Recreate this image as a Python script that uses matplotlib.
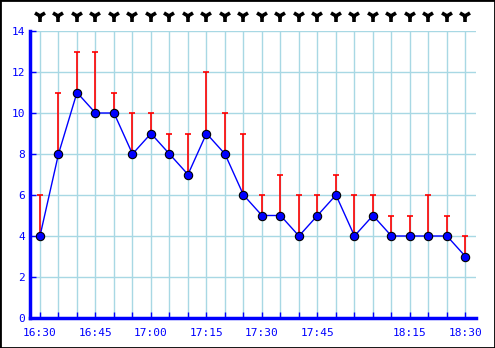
import matplotlib
matplotlib.use("Agg")
import matplotlib.pyplot as plt
import numpy as np

# values, one per reading
labels = ["16:30", "", "", "16:45", "", "", "17:00", "", "", "17:15", "", "",
          "17:30", "", "", "17:45", "", "", "", "", "18:15", "", "", "18:30"]
values = [4, 8, 11, 10, 10, 8, 9, 8, 7, 9, 8, 6, 5, 5, 4, 5, 6, 4, 5, 4, 4, 4, 4, 3]
maxima = [6, 11, 13, 13, 11, 10, 10, 9, 9, 12, 10, 9, 6, 7, 6, 6, 7, 6, 6, 5, 5, 6, 5, 4]

x = np.arange(len(values))
blue = "#0000ff"

fig = plt.figure(figsize=(4.95, 3.48), dpi=100)
ax = fig.add_axes([30/495, 30/348, 446/495, 287/348])

ax.set_xlim(-0.54, 23.57)
ax.set_ylim(0, 14)
ax.set_xticks(x)
ax.set_xticklabels(labels)
ax.set_yticks(range(0, 15, 2))
ax.grid(True, color="#a8d8e4", linewidth=1)
ax.set_axisbelow(True)

# red bars up to the maximum, cap on top only
ax.vlines(x, values, maxima, color="#ff0000", linewidth=1.2, zorder=3)
ax.plot(x, maxima, linestyle="none", marker="_", markersize=5, mew=1.2,
        color="#ff0000", zorder=3)

ax.plot(x, values, color=blue, linewidth=1, marker="o", markersize=6,
        markerfacecolor=blue, markeredgecolor="black", markeredgewidth=0.8, zorder=4)

# direction markers along the top
ax.plot(x, [1.054] * len(x), linestyle="none", marker="1", markersize=9, mew=2.6,
        color="black", transform=ax.get_xaxis_transform(), clip_on=False)

for s in ["top", "right"]:
    ax.spines[s].set_visible(False)
for s in ["left", "bottom"]:
    ax.spines[s].set_color(blue)
    ax.spines[s].set_linewidth(2.5)

ax.tick_params(direction="in", colors=blue, length=4, width=1,
               labelsize=8, labelfontfamily="DejaVu Sans Mono")
ax.tick_params(axis="x", pad=7)

fig.patches.append(plt.Rectangle((0, 0), 1, 1, transform=fig.transFigure,
                                 fill=False, edgecolor="black", linewidth=2))

fig.savefig("out.png", dpi=100)
